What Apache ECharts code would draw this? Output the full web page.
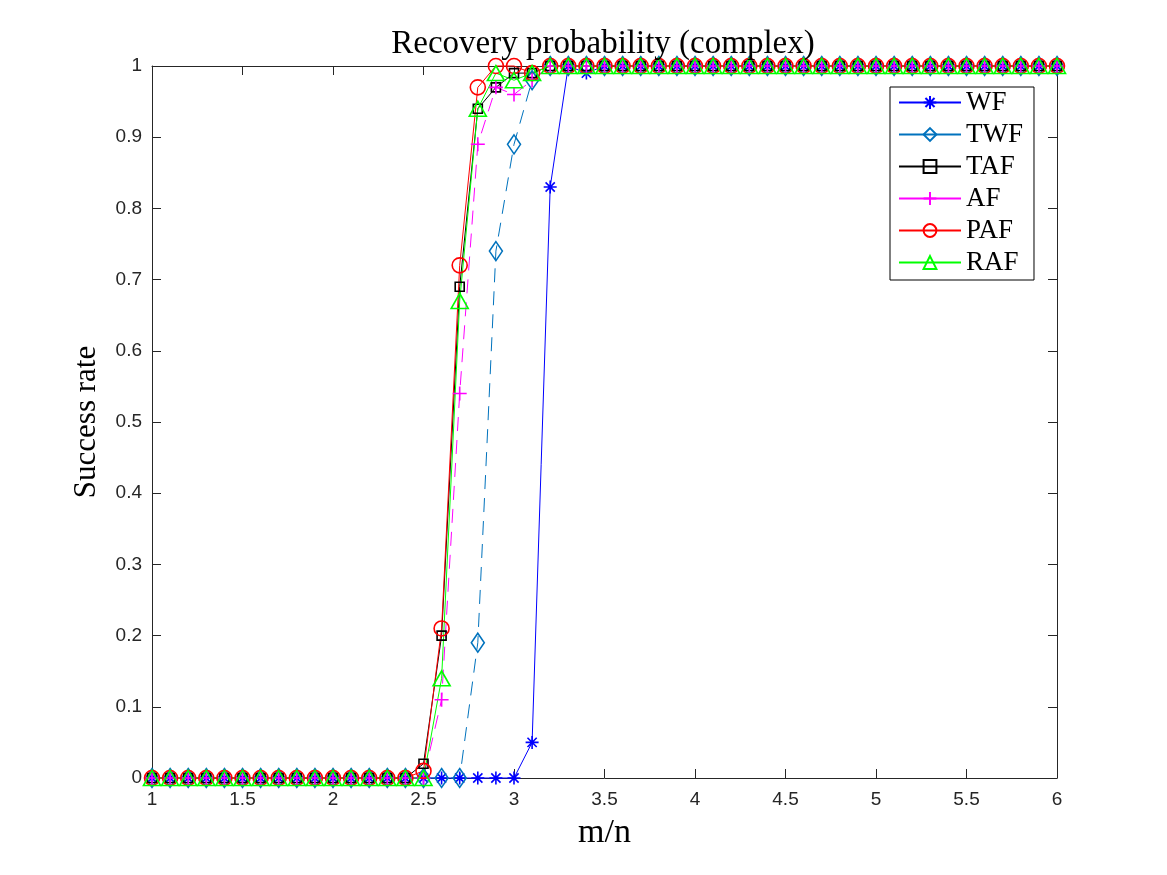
<!DOCTYPE html>
<html>
<head>
<meta charset="utf-8">
<title>Recovery probability (complex)</title>
<script src="https://cdn.jsdelivr.net/npm/echarts@6/dist/echarts.min.js"></script>
<style>
  html, body { margin: 0; padding: 0; background: #fff; }
  #main { width: 1167px; height: 875px; }
</style>
</head>
<body>
<div id="main"></div>
<script>
// m/n sample points
var mn = [1.0, 1.1, 1.2, 1.3, 1.4, 1.5, 1.6, 1.7, 1.8, 1.9,
          2.0, 2.1, 2.2, 2.3, 2.4, 2.5, 2.6, 2.7, 2.8, 2.9,
          3.0, 3.1, 3.2, 3.3, 3.4, 3.5, 3.6, 3.7, 3.8, 3.9,
          4.0, 4.1, 4.2, 4.3, 4.4, 4.5, 4.6, 4.7, 4.8, 4.9,
          5.0, 5.1, 5.2, 5.3, 5.4, 5.5, 5.6, 5.7, 5.8, 5.9,
          6.0];

// success rate per method
var wf  = [0, 0, 0, 0, 0, 0, 0, 0, 0, 0,
           0, 0, 0, 0, 0, 0, 0, 0, 0, 0,
           0, 0.05, 0.83, 1, 0.99, 1, 1, 1, 1, 1,
           1, 1, 1, 1, 1, 1, 1, 1, 1, 1,
           1, 1, 1, 1, 1, 1, 1, 1, 1, 1,
           1];
var twf = [0, 0, 0, 0, 0, 0, 0, 0, 0, 0,
           0, 0, 0, 0, 0, 0, 0, 0, 0.19, 0.74,
           0.89, 0.98, 1, 1, 1, 1, 1, 1, 1, 1,
           1, 1, 1, 1, 1, 1, 1, 1, 1, 1,
           1, 1, 1, 1, 1, 1, 1, 1, 1, 1,
           1];
var taf = [0, 0, 0, 0, 0, 0, 0, 0, 0, 0,
           0, 0, 0, 0, 0, 0.02, 0.20, 0.69, 0.94, 0.97,
           0.99, 0.99, 1, 1, 1, 1, 1, 1, 1, 1,
           1, 1, 1, 1, 1, 1, 1, 1, 1, 1,
           1, 1, 1, 1, 1, 1, 1, 1, 1, 1,
           1];
var af  = [0, 0, 0, 0, 0, 0, 0, 0, 0, 0,
           0, 0, 0, 0, 0, 0, 0.11, 0.54, 0.89, 0.97,
           0.96, 0.98, 1, 1, 1, 1, 1, 1, 1, 1,
           1, 1, 1, 1, 1, 1, 1, 1, 1, 1,
           1, 1, 1, 1, 1, 1, 1, 1, 1, 1,
           1];
var paf = [0, 0, 0, 0, 0, 0, 0, 0, 0, 0,
           0, 0, 0, 0, 0, 0.01, 0.21, 0.72, 0.97, 1,
           1, 0.99, 1, 1, 1, 1, 1, 1, 1, 1,
           1, 1, 1, 1, 1, 1, 1, 1, 1, 1,
           1, 1, 1, 1, 1, 1, 1, 1, 1, 1,
           1];
var raf = [0, 0, 0, 0, 0, 0, 0, 0, 0, 0,
           0, 0, 0, 0, 0, 0, 0.14, 0.67, 0.94, 0.99,
           0.98, 0.99, 1, 1, 1, 1, 1, 1, 1, 1,
           1, 1, 1, 1, 1, 1, 1, 1, 1, 1,
           1, 1, 1, 1, 1, 1, 1, 1, 1, 1,
           1];

var xTicks = [1, 1.5, 2, 2.5, 3, 3.5, 4, 4.5, 5, 5.5, 6];
var yTicks = [0, 0.1, 0.2, 0.3, 0.4, 0.5, 0.6, 0.7, 0.8, 0.9, 1];

var axisColor = '#262626';
var serif = '"Liberation Serif", "DejaVu Serif", serif';
var sans = '"Liberation Sans", Arial, sans-serif';

var asterisk = 'path://M0,-1L0,1M-1,0L1,0M-0.71,-0.71L0.71,0.71M-0.71,0.71L0.71,-0.71';
var plus = 'path://M0,-1L0,1M-1,0L1,0';

function pairs(ys) {
  return mn.map(function (x, i) { return [x, ys[i]]; });
}

function makeSeries(name, ys, color, symbol, size, dash) {
  return {
    name: name,
    type: 'line',
    data: pairs(ys),
    color: color,
    symbol: symbol,
    symbolSize: size,
    showAllSymbol: true,
    clip: false,
    animation: false,
    lineStyle: { color: color, width: 1, type: dash || 'solid' },
    itemStyle: { color: 'rgba(0,0,0,0)', borderColor: color, borderWidth: 1.6 },
    emphasis: { disabled: true }
  };
}

var chart = echarts.init(document.getElementById('main'), null, { renderer: 'canvas' });

var baseX = {
  type: 'value', min: 1, max: 6, interval: 0.5,
  axisLine: { show: true, onZero: false, lineStyle: { color: axisColor, width: 1 } },
  axisTick: { show: true, inside: true, length: 9, lineStyle: { color: axisColor } },
  splitLine: { show: false }
};
var baseY = {
  type: 'value', min: 0, max: 1, interval: 0.1,
  axisLine: { show: true, onZero: false, lineStyle: { color: axisColor, width: 1 } },
  axisTick: { show: true, inside: true, length: 9, lineStyle: { color: axisColor } },
  splitLine: { show: false }
};

chart.setOption({
  backgroundColor: '#fff',
  animation: false,
  title: {
    text: 'Recovery probability (complex)',
    left: 598,
    top: 23,
    textAlign: 'center',
    textStyle: { fontFamily: serif, fontSize: 33, fontWeight: 'normal', color: '#000' }
  },
  grid: { left: 152, right: 110, top: 66, bottom: 97 },
  legend: {
    orient: 'vertical',
    left: 890,
    top: 87,
    padding: [2, 11, 4, 8],
    itemWidth: 62,
    itemHeight: 16,
    itemGap: 5,
    borderColor: '#000',
    borderWidth: 1,
    backgroundColor: '#fff',
    lineStyle: { type: 'solid' },
    textStyle: { fontFamily: serif, fontSize: 27, color: '#000' },
    data: ['WF', 'TWF', 'TAF', 'AF', 'PAF', 'RAF']
  },
  xAxis: [
    Object.assign({}, baseX, {
      position: 'bottom',
      name: 'm/n',
      nameLocation: 'middle',
      nameGap: 38,
      nameTextStyle: { fontFamily: serif, fontSize: 34, color: '#000' },
      axisLabel: {
        margin: 12, fontFamily: sans, fontSize: 19, color: axisColor,
        formatter: function (v) { return xTicks.indexOf(v) >= 0 ? String(v) : ''; }
      }
    }),
    Object.assign({}, baseX, { position: 'top', axisLabel: { show: false } })
  ],
  yAxis: [
    Object.assign({}, baseY, {
      position: 'left',
      name: 'Success rate',
      nameLocation: 'middle',
      nameGap: 50,
      nameTextStyle: { fontFamily: serif, fontSize: 31, color: '#000' },
      axisLabel: {
        margin: 10, fontFamily: sans, fontSize: 19, color: axisColor,
        formatter: function (v) {
          var r = Math.round(v * 10) / 10;
          return yTicks.indexOf(r) >= 0 ? String(r) : '';
        }
      }
    }),
    Object.assign({}, baseY, { position: 'right', axisLabel: { show: false } })
  ],
  series: [
    makeSeries('WF', wf, '#0000ff', asterisk, 13),
    makeSeries('TWF', twf, '#0072bd', 'diamond', [13, 19], [14, 9]),
    makeSeries('TAF', taf, '#000000', 'rect', 9),
    makeSeries('AF', af, '#ff00ff', plus, 14, [14, 9]),
    makeSeries('PAF', paf, '#ff0000', 'circle', 15),
    makeSeries('RAF', raf, '#00ff00', 'triangle', [17, 15])
  ]
});
</script>
</body>
</html>
